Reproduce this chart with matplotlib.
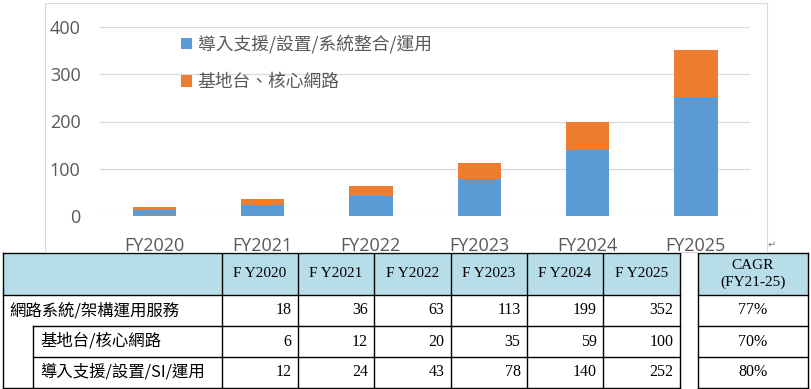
import matplotlib
matplotlib.use("Agg")
import matplotlib.pyplot as plt
from matplotlib.patches import Rectangle

plt.rcParams['font.family'] = ['Noto Sans CJK TC', 'DejaVu Sans']

# data
years = ['FY2020', 'FY2021', 'FY2022', 'FY2023', 'FY2024', 'FY2025']
intro = [12, 24, 43, 78, 140, 252]      # 導入支援/設置/SI/運用
base = [6, 12, 20, 35, 59, 100]         # 基地台/核心網路
total = [18, 36, 63, 113, 199, 352]     # 網路系統/架構運用服務
cagr = ['77%', '70%', '80%']
row_labels = ['網路系統/架構運用服務', '基地台/核心網路', '導入支援/設置/SI/運用']
legend_labels = ['導入支援/設置/系統整合/運用', '基地台、核心網路']

BLUE = '#5B9BD5'
ORANGE = '#ED7D31'
GRID = '#D9D9D9'
TXT = '#595959'
HEAD = '#B7DEE8'

W, H = 811, 389
fig = plt.figure(figsize=(W / 100, H / 100), dpi=100)


def px(x0, y0, x1, y1):
    """pixel box (top-left origin) -> figure fraction rect"""
    return [x0 / W, 1 - y1 / H, (x1 - x0) / W, (y1 - y0) / H]


# chart frame (bottom edge is hidden under the table)
fig.patches.append(Rectangle((45 / W, 1 - 252 / H), (767 - 45) / W, (252 - 3) / H,
                             transform=fig.transFigure, fill=False,
                             edgecolor=GRID, lw=0.8, zorder=0))

ax = fig.add_axes(px(100, 27, 750, 216))
x = range(len(years))
b1 = ax.bar(x, intro, width=0.4, color=BLUE, zorder=3)
b2 = ax.bar(x, base, width=0.4, bottom=intro, color=ORANGE, zorder=3)
ax.set_xlim(-0.5, len(years) - 0.5)
ax.set_ylim(0, 400)
ax.set_yticks([0, 100, 200, 300, 400])
ax.set_xticks(list(x))
ax.set_xticklabels(years)
ax.yaxis.grid(True, color=GRID, lw=0.9, zorder=0)
for s in ax.spines.values():
    s.set_visible(False)
ax.tick_params(axis='both', length=0, labelsize=13, labelcolor=TXT)
ax.tick_params(axis='y', pad=14)
ax.tick_params(axis='x', pad=15)
for t in ax.get_xticklabels() + ax.get_yticklabels():
    t.set_family(['Open Sans', 'DejaVu Sans'])

leg = ax.legend([b1, b2], legend_labels, loc='upper left',
                bbox_to_anchor=(172 / W, 1 - 26 / H), bbox_transform=fig.transFigure,
                frameon=False, fontsize=12.8, labelcolor=TXT,
                handlelength=0.6, handleheight=0.6, handletextpad=0.35,
                labelspacing=1.1, borderpad=0)

fig.text(772 / W, 1 - 245 / H, '↵', fontsize=7, color='#7F7F7F',
         family='DejaVu Sans', ha='center', va='center')

# table, drawn in pixel coordinates
tb = fig.add_axes([0, 0, 1, 1])
tb.set_xlim(0, W)
tb.set_ylim(H, 0)
tb.axis('off')

cols = [3, 221.5, 297.5, 374, 450.5, 526.5, 603, 679.5]
ccol = [697.5, 808]
rows = [252.5, 295, 326, 357, 387.5]
indent = 33
LW = 1.0

# header backgrounds
tb.add_patch(Rectangle((0, rows[0]), W, H - rows[0], facecolor='white',
                       edgecolor='none', zorder=-1))
tb.add_patch(Rectangle((cols[0], rows[0]), cols[-1] - cols[0], rows[1] - rows[0],
                       facecolor=HEAD, edgecolor='none'))
tb.add_patch(Rectangle((ccol[0], rows[0]), ccol[1] - ccol[0], rows[1] - rows[0],
                       facecolor=HEAD, edgecolor='none'))

# grid lines
for i, y in enumerate(rows):
    xs = cols[0] if i in (0, 1, len(rows) - 1) else indent
    tb.plot([xs, cols[-1]], [y, y], color='black', lw=LW)
    tb.plot([ccol[0], ccol[1]], [y, y], color='black', lw=LW)
for xv in cols:
    tb.plot([xv, xv], [rows[0], rows[-1]], color='black', lw=LW)
tb.plot([indent, indent], [rows[2], rows[-1]], color='black', lw=LW)
for xv in ccol:
    tb.plot([xv, xv], [rows[0], rows[-1]], color='black', lw=LW)

# header text
serif = ['Liberation Serif', 'DejaVu Serif']
hy = (rows[0] + rows[1]) / 2
for i, yr in enumerate(years):
    cx = (cols[i + 1] + cols[i + 2]) / 2
    tb.text(cx, hy, yr.replace('FY', 'F Y'), ha='center', va='center',
            fontsize=11, family=serif)
ccx = (ccol[0] + ccol[1]) / 2
tb.text(ccx, hy - 8, 'CAGR', ha='center', va='center', fontsize=11, family=serif)
tb.text(ccx, hy + 9, '(FY21-25)', ha='center', va='center', fontsize=11, family=serif)

# body
for r, (lab, vals) in enumerate(zip(row_labels, [total, base, intro])):
    cy = (rows[r + 1] + rows[r + 2]) / 2
    lx = 9 if r == 0 else 40
    tb.text(lx, cy, lab, ha='left', va='center', fontsize=11.8)
    for i, v in enumerate(vals):
        tb.text(cols[i + 2] - 6, cy, str(v), ha='right', va='center',
                fontsize=11.5, family=serif)
    tb.text(ccx, cy, cagr[r], ha='center', va='center', fontsize=11.5, family=serif)

fig.savefig('out.png', dpi=100)
